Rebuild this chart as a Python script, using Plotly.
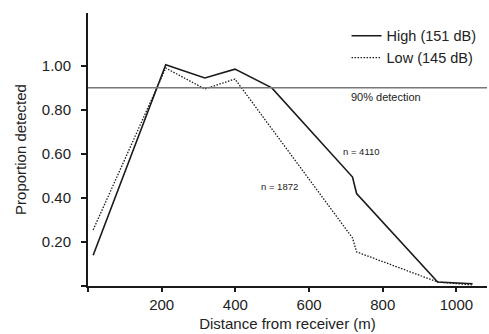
import plotly.graph_objects as go

distance_high = [14, 211, 317, 399, 499, 718, 729, 949, 1044]
prop_high = [0.14, 1.005, 0.945, 0.985, 0.90, 0.495, 0.42, 0.018, 0.01]
distance_low = [14, 211, 317, 399, 718, 729, 949, 1044]
prop_low = [0.255, 0.99, 0.895, 0.94, 0.218, 0.155, 0.018, 0.005]
threshold = 0.9
x_ticks = [0, 200, 400, 600, 800, 1000]
x_ticklabels = ["", "200", "400", "600", "800", "1000"]
y_ticks = [0, 0.2, 0.4, 0.6, 0.8, 1.0]
y_ticklabels = ["", "0.20", "0.40", "0.60", "0.80", "1.00"]

FONT = "Liberation Sans, Arial, sans-serif"

fig = go.Figure()
fig.add_trace(go.Scatter(x=distance_high, y=prop_high, mode="lines", name="High (151 dB)",
                         line=dict(color="#1a1a1a", width=1.6)))
fig.add_trace(go.Scatter(x=distance_low, y=prop_low, mode="lines", name="Low (145 dB)",
                         line=dict(color="#1a1a1a", width=1.3, dash="1.5px,1.5px")))

fig.add_hline(y=threshold, line=dict(color="#777777", width=1.5))

fig.add_annotation(x=808, y=threshold, yshift=-1, text="90% detection", showarrow=False,
                   xanchor="center", yanchor="top", font=dict(family=FONT, size=11, color="#222"))
fig.add_annotation(x=743, y=0.61, text="n = 4110", showarrow=False,
                   xanchor="center", yanchor="middle", font=dict(family=FONT, size=9.5, color="#222"))
fig.add_annotation(x=520, y=0.45, text="n = 1872", showarrow=False,
                   xanchor="center", yanchor="middle", font=dict(family=FONT, size=9.5, color="#222"))

fig.update_layout(
    width=489, height=334,
    margin=dict(l=88, r=2, t=13, b=48),
    paper_bgcolor="white", plot_bgcolor="white",
    font=dict(family=FONT, size=15, color="#222"),
    showlegend=True,
    legend=dict(x=0.648, y=0.975, xanchor="left", yanchor="top",
                bgcolor="rgba(0,0,0,0)", font=dict(size=14.5, color="#222"),
                tracegroupgap=0, itemwidth=30),
    xaxis=dict(range=[0, 1083], tickvals=x_ticks, ticktext=x_ticklabels,
               showgrid=False, zeroline=False, showline=True, linecolor="#1a1a1a", linewidth=2,
               ticks="outside", ticklen=4, tickwidth=1.5, tickcolor="#1a1a1a",
               title=dict(text="Distance from receiver (m)", font=dict(size=15), standoff=6)),
    yaxis=dict(range=[0, 1.24], tickvals=y_ticks, ticktext=y_ticklabels,
               showgrid=False, zeroline=False, showline=True, linecolor="#1a1a1a", linewidth=2,
               ticks="outside", ticklen=5, tickwidth=1.5, tickcolor="#1a1a1a",
               ticklabelstandoff=7,
               title=dict(text="Proportion detected", font=dict(size=15), standoff=12)),
)

fig.write_html("out.html")
